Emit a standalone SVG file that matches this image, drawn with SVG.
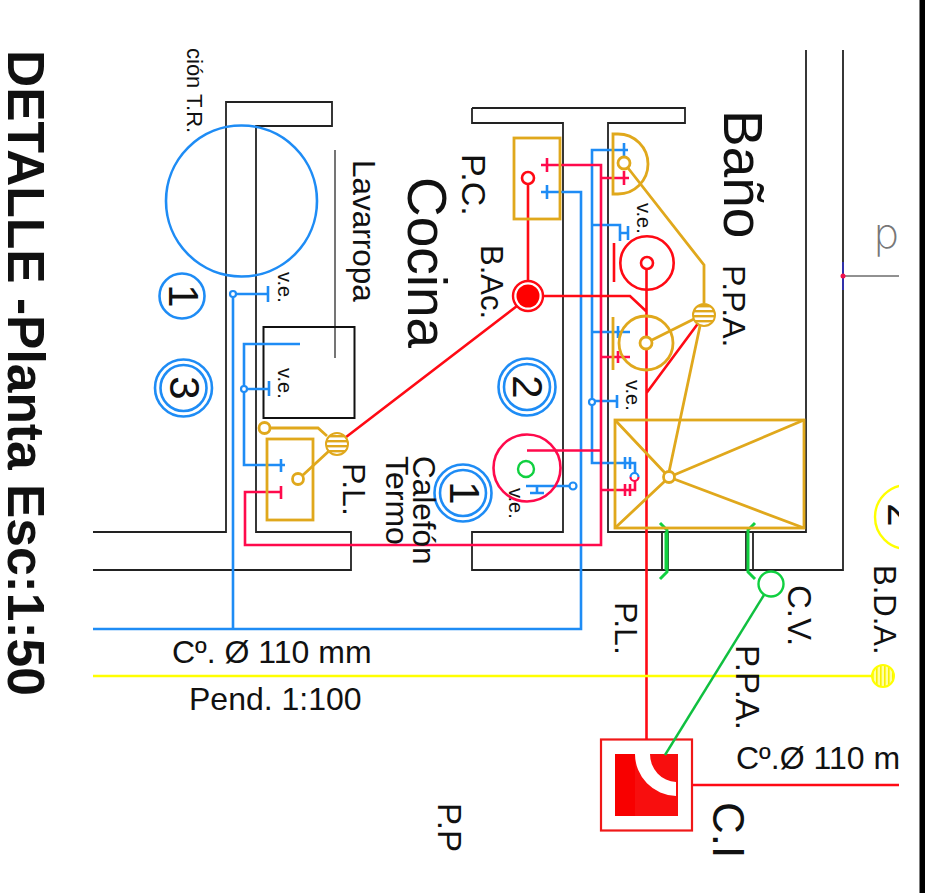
<svg xmlns="http://www.w3.org/2000/svg" width="932" height="893" viewBox="0 0 932 893">
<style>
text{font-family:"Liberation Sans",Arial,sans-serif;fill:#111}
.w{fill:none;stroke:#222;stroke-width:1.800}
.b{fill:none;stroke:#1e8cf5;stroke-width:2.600}
.r{fill:none;stroke:#ff0a14;stroke-width:2.600}
.k{fill:none;stroke:#ff0a4c;stroke-width:2.600}
.g{fill:none;stroke:#e0a81c;stroke-width:2.800}
.n{fill:none;stroke:#10d040;stroke-width:3}
.dot{fill:#fff;stroke:#1e8cf5;stroke-width:2.200}
.gd{fill:#fff;stroke:#e0a81c;stroke-width:2.800}
.rd{fill:#fff;stroke:#ff0a14;stroke-width:2.600}
.ve{font-size:20px}
.lb{font-size:32px}
.num{font-size:42px}
</style>
<defs>
<pattern id="hs" width="4" height="5" patternUnits="userSpaceOnUse"><rect width="4" height="5" fill="#fff"/><rect width="4" height="2.400" fill="#e0a81c"/></pattern>
<pattern id="vs" width="4" height="4" patternUnits="userSpaceOnUse"><rect width="4" height="4" fill="#ffffa0"/><rect width="1.600" height="4" fill="#f8f000"/></pattern>
<clipPath id="cut"><rect x="860" y="470" width="39" height="100"/></clipPath>
</defs>
<rect width="932" height="893" fill="#fff"/>
<g id="walls">
<path class="w" d="M93 532H226V102H332V126H256V532H351V570H93"/>
<path class="w" style="stroke:#666" d="M335 150V358"/>
<rect class="w" style="stroke:#111;stroke-width:2" x="263.500" y="327" width="91" height="91"/>
<path class="w" d="M472 108H685V123H608V532H806V50M472 108V123H563V532H472V570H843V50"/>
<path class="w" style="stroke:#222;stroke-width:1" d="M843 276H899"/>
<path d="M843 262V290" stroke="#3030d0" stroke-width="1.500"/>
<circle cx="843" cy="276" r="2.500" fill="#f0104c"/>
<path class="w" d="M502 532H533M502 570H533"/>
<path class="w" d="M662 532V570M668 532V570M746 532V570M753 532V570"/>
<rect x="919.500" y="0" width="5.500" height="893" fill="#000"/>
</g>
<g id="ci"><rect x="601" y="739.500" width="91" height="91" fill="#fff" stroke="#f01818" stroke-width="2.200"/><rect x="615" y="754" width="63" height="62" fill="#f80000"/><rect x="635" y="754" width="43" height="62" fill="#f80e0e"/><path d="M635 754H650A27 28 0 0 0 676 782V796A42 42 0 0 1 635 754Z" fill="#fff"/><text style="font-size:44px" transform="translate(713 802) rotate(90)">C.I</text></g>
<g id="connectors">
<path class="b" d="M93 629H581V192H541M547 185V199"/>
<path class="b" d="M233 294V629M233 294H268M268 286V302"/>
<path class="b" d="M300 344H244V465H285M281 459V472M244 389H269M269 381V396"/>
<path class="b" d="M628 150H592V463H625M625 457V469M630 457V469M625 463H635V474"/>
<path class="b" d="M624 143V158"/>
<path class="b" d="M592 225H620V241M620 233H628M628 226V240"/>
<path class="b" d="M592 332H630M618 326V338M592 401H617M617 395V408"/>
<path class="b" d="M526 486H573M530 493H544M537 486V493"/>
<path class="k" d="M281 492H245V545H601V165H541M547 158V172M601 178H629M624 171V185"/>
<path class="k" d="M601 357H630M618 351V363M527 450.500H601M601 490H635V480M625 484V496M630 484V496"/>
<path class="k" d="M281 486V499" />
<path class="r" d="M528 184V281M517 306L337 444M543 296H630L647 312M646.500 269V740M646.500 393L705 314M692 785H899"/>
<path class="r" d="M614 243V282"/>
<path class="g" d="M270 428H318L327 436M303 475L329 451M628 168L704 265V303M652 340L694 319M700 326L669 472M613 317V370"/>
<path d="M93 676H872" stroke="#ffff00" stroke-width="2.600" fill="none"/>
<path class="n" d="M666 532V570M660 523L667 530V572L660 579M748 532V570M755 523L748 530V572L755 579"/>
<path d="M764 595L665 755" stroke="#10c040" stroke-width="2.400" fill="none"/>
</g>
<g id="tr"><circle cx="241.500" cy="201" r="75.500" class="b"/><text style="font-size:22px" transform="translate(187 48) rotate(90)">ción T.R.</text></g>
<g id="n1a"><circle cx="182" cy="296" r="22.500" class="b"/><text class="num" text-anchor="middle" transform="translate(169 296) rotate(90)">1</text></g>
<g id="n3"><circle cx="183.500" cy="388" r="28.500" class="b"/><circle cx="183.500" cy="388" r="23" class="b"/><text class="num" text-anchor="middle" transform="translate(170 388) rotate(90)">3</text></g>
<g id="n2"><circle cx="527" cy="387" r="28.500" class="b"/><circle cx="527" cy="387" r="23" class="b"/><text class="num" text-anchor="middle" transform="translate(513 387) rotate(90)">2</text></g>
<g id="n1b"><circle cx="463" cy="493" r="28.500" class="b"/><circle cx="463" cy="493" r="23" class="b"/><text class="num" text-anchor="middle" transform="translate(450 493) rotate(90)">1</text></g>
<g id="lavarropa"><text class="lb" style="font-size:31.500px" transform="translate(353 160) rotate(90)">Lavarropa</text></g>
<g id="ve-nodes">
<circle class="dot" cx="233" cy="294" r="3"/><circle class="dot" cx="244" cy="389" r="3"/><circle class="dot" cx="592" cy="402" r="3"/><circle class="dot" cx="573" cy="486" r="3.500"/>
<text class="ve" transform="translate(278 272) rotate(90)">v.e.</text>
<text class="ve" transform="translate(278 368) rotate(90)">v.e.</text>
<text class="ve" transform="translate(637 203) rotate(90)">v.e.</text>
<text class="ve" transform="translate(626 380) rotate(90)">v.e.</text>
<text class="ve" transform="translate(509 488) rotate(90)">v.e.</text>
</g>
<g id="pl-room">
<rect class="g" x="267" y="439" width="46" height="81"/>
<circle class="gd" cx="264.500" cy="428" r="5.500"/><circle class="gd" cx="298" cy="479" r="5.500"/>
<circle cx="337" cy="444" r="11" fill="url(#hs)" stroke="#e0a81c" stroke-width="2"/>
<text class="lb" transform="translate(343 463) rotate(90)">P.L.</text>
</g>
<g id="pc"><rect class="g" x="514" y="138" width="46" height="81"/><circle class="rd" cx="528" cy="178" r="6"/><text style="font-size:34px" transform="translate(462 154) rotate(90)">P.C.</text></g>
<g id="bac"><circle cx="528" cy="296" r="15" fill="#fff" stroke="#ff0a14" stroke-width="2.400"/><circle cx="528" cy="296" r="11.500" fill="#f00"/><text style="font-size:31px" transform="translate(481 245) rotate(90)">B.Ac.</text></g>
<g id="cocina"><text style="font-size:55px" transform="translate(408 177) rotate(90)">Cocina</text></g>
<g id="termo"><circle class="k" cx="527" cy="468" r="33.500"/><circle cx="526" cy="469" r="8" fill="#fff" stroke="#10d040" stroke-width="2.400"/>
<text class="lb" transform="translate(386 456) rotate(90)">Termo</text><text style="font-size:31.500px" transform="translate(413 456) rotate(90)">Calefón</text></g>
<g id="bano"><text style="font-size:55px" transform="translate(724 110) rotate(90)">Baño</text>
<path class="g" d="M613 194V134H618A30 30 0 0 1 618 194Z"/><circle class="gd" cx="624" cy="163" r="6"/>
<circle class="r" cx="647" cy="263" r="26.700"/><circle class="rd" cx="647" cy="263" r="6"/>
<circle class="g" cx="646" cy="343" r="27"/><circle class="gd" cx="646" cy="343" r="6"/>
<circle cx="704" cy="315" r="11" fill="url(#hs)" stroke="#e0a81c" stroke-width="2"/>
<text class="lb" transform="translate(723 265) rotate(90)">P.P.A.</text></g>
<g id="shower"><rect class="g" x="615" y="420" width="189" height="108"/><path class="g" d="M615 420L665 473M615 528L665 481M804 420L674 475M804 528L674 479"/><circle class="gd" cx="669" cy="477" r="5.500"/>
<path d="M630.500 477A4 4 0 0 0 638.500 477" fill="none" stroke="#ff0a4c" stroke-width="2.200"/><path d="M630.500 477A4 4 0 0 1 638.500 477" fill="none" stroke="#1e8cf5" stroke-width="2.200"/></g>
<g id="cv"><circle cx="771" cy="584" r="12.500" fill="#fff" stroke="#10d040" stroke-width="2.400"/><text class="lb" style="font-size:33px" transform="translate(788 585) rotate(90)">C.V.</text></g>
<g id="bda"><circle cx="883" cy="676" r="11" fill="url(#vs)" stroke="#ffff00" stroke-width="2"/><text class="lb" style="font-size:31px" transform="translate(874 565) rotate(90)">B.D.A.</text>
<g clip-path="url(#cut)"><circle cx="907" cy="517" r="32" fill="none" stroke="#ffff00" stroke-width="2.400"/><text class="num" text-anchor="middle" transform="translate(888 515) rotate(90)">2</text></g></g>
<g id="labels">
<text style="font-size:51.500px;font-weight:700" transform="translate(8 50) rotate(90)">DETALLE -Planta Esc:1:50</text>
<text class="lb" transform="translate(615 602) rotate(90)">P.L.</text>
<text class="lb" style="font-size:33px" transform="translate(736 645) rotate(90)">P.P.A.</text>
<text class="lb" style="font-size:33px" transform="translate(438 803) rotate(90)">P.P</text>
<text class="lb" x="172" y="663">Cº. Ø 110 mm</text>
<text class="lb" x="189" y="710">Pend. 1:100</text>
<text class="lb" x="736" y="769">Cº.Ø 110 m</text>
<text x="874" y="248" style="font-size:42px;fill:#777;font-family:Inter,'Liberation Sans',sans-serif;font-weight:200">p</text>
</g>
</svg>
